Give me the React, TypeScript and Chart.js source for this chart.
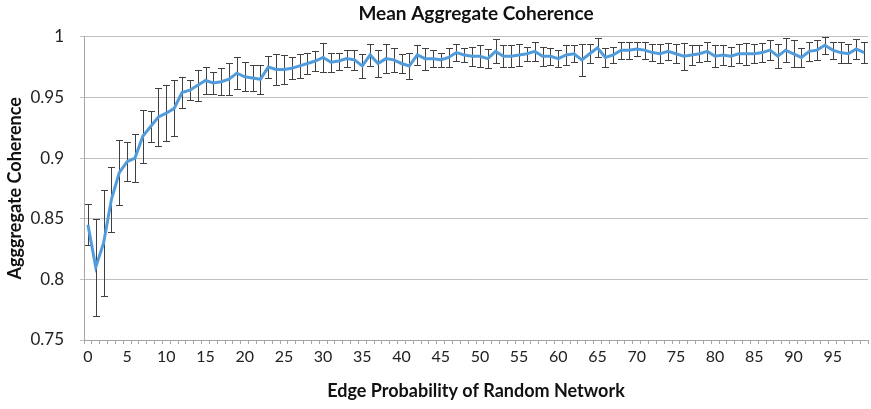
import React, { useEffect, useRef } from "react";
import { Chart, registerables } from "chart.js";

Chart.register(...registerables);

const categories: string[] = Array.from({ length: 100 }, (_, i) => String(i));

const meanCoherence: number[] = [
  0.845, 0.81, 0.83, 0.866, 0.888, 0.897, 0.9, 0.918, 0.926, 0.934,
  0.937, 0.941, 0.954, 0.956, 0.96, 0.964, 0.962, 0.963, 0.965, 0.97,
  0.967, 0.966, 0.965, 0.975, 0.973, 0.973, 0.974, 0.976, 0.978, 0.98,
  0.983, 0.979, 0.98, 0.982, 0.981, 0.976, 0.985, 0.978, 0.982, 0.981,
  0.978, 0.976, 0.985, 0.982, 0.982, 0.981, 0.983, 0.987, 0.985, 0.984,
  0.984, 0.982, 0.988, 0.984, 0.984, 0.985, 0.986, 0.988, 0.984, 0.984,
  0.982, 0.985, 0.986, 0.981, 0.986, 0.991, 0.983, 0.985, 0.989, 0.989,
  0.99, 0.989, 0.987, 0.986, 0.988, 0.986, 0.984, 0.985, 0.986, 0.988,
  0.984, 0.985, 0.984, 0.986, 0.986, 0.986, 0.987, 0.989, 0.984, 0.989,
  0.986, 0.983, 0.988, 0.989, 0.993, 0.989, 0.987, 0.986, 0.99, 0.987,
];

const errorHalf: number[] = [
  0.017, 0.04, 0.044, 0.027, 0.027, 0.016, 0.02, 0.022, 0.013, 0.024,
  0.023, 0.023, 0.013, 0.008, 0.013, 0.011, 0.009, 0.011, 0.013, 0.013,
  0.012, 0.011, 0.012, 0.009, 0.013, 0.012, 0.009, 0.01, 0.009, 0.008,
  0.012, 0.008, 0.007, 0.007, 0.008, 0.01, 0.009, 0.011, 0.012, 0.01,
  0.008, 0.011, 0.008, 0.009, 0.007, 0.006, 0.008, 0.007, 0.006, 0.008,
  0.009, 0.008, 0.01, 0.009, 0.009, 0.009, 0.006, 0.008, 0.008, 0.007,
  0.007, 0.008, 0.007, 0.013, 0.008, 0.008, 0.008, 0.007, 0.007, 0.007,
  0.006, 0.007, 0.007, 0.008, 0.007, 0.008, 0.011, 0.008, 0.007, 0.008,
  0.009, 0.008, 0.008, 0.008, 0.009, 0.008, 0.008, 0.008, 0.01, 0.01,
  0.011, 0.008, 0.008, 0.008, 0.007, 0.007, 0.009, 0.008, 0.008, 0.009,
];

const yTickMin = 0.75;
const yTickMax = 1;
const yTickStep = 0.05;

const FONT = "Lato, 'Open Sans', sans-serif";

const errorBarPlugin = {
  id: "errorBars",
  beforeDatasetsDraw(chart: any) {
    const xs = chart.scales.x;
    const ys = chart.scales.y;
    const ctx = chart.ctx;
    ctx.save();
    ctx.strokeStyle = "#404040";
    ctx.lineWidth = 1;
    const cap = 3.5;
    meanCoherence.forEach((m, i) => {
      const e = errorHalf[i];
      const x = Math.round(xs.getPixelForValue(i)) + 0.5;
      const yt = Math.round(ys.getPixelForValue(m + e)) + 0.5;
      const yb = Math.round(ys.getPixelForValue(m - e)) + 0.5;
      ctx.beginPath();
      ctx.moveTo(x, yt);
      ctx.lineTo(x, yb);
      ctx.moveTo(x - cap, yt);
      ctx.lineTo(x + cap, yt);
      ctx.moveTo(x - cap, yb);
      ctx.lineTo(x + cap, yb);
      ctx.stroke();
    });
    ctx.restore();
  },
};

export default function App() {
  const ref = useRef<HTMLCanvasElement | null>(null);

  useEffect(() => {
    if (!ref.current) return;
    const chart = new Chart(ref.current, {
      type: "line",
      data: {
        labels: categories,
        datasets: [
          {
            data: meanCoherence,
            borderColor: "#529cdb",
            borderWidth: 3,
            pointRadius: 0,
            tension: 0,
            fill: false,
          },
        ],
      },
      plugins: [errorBarPlugin],
      options: {
        animation: false,
        responsive: false,
        maintainAspectRatio: false,
        layout: { padding: { left: 0, right: 3, top: 0, bottom: 0 } },
        plugins: {
          legend: { display: false },
          tooltip: { enabled: false },
          title: {
            display: true,
            text: "Mean Aggregate Coherence",
            fullSize: false,
            color: "#111",
            font: { family: FONT, size: 19, weight: "bold" },
            padding: { top: 2, bottom: 12 },
          },
        },
        scales: {
          x: {
            type: "category",
            offset: true,
            grid: {
              display: true,
              drawOnChartArea: false,
              drawTicks: true,
              tickLength: 4,
              offset: true,
              color: "#a6a6a6",
            },
            border: { display: true, color: "#a6a6a6" },
            ticks: {
              autoSkip: false,
              maxRotation: 0,
              minRotation: 0,
              padding: 3,
              color: "#222",
              font: { family: FONT, size: 16 },
              callback: (_v: any, i: number) => (i % 5 === 0 ? categories[i] : ""),
            },
            title: {
              display: true,
              text: "Edge Probability of Random Network",
              color: "#111",
              font: { family: FONT, size: 18, weight: "bold" },
              padding: { top: 0, bottom: 7 },
            },
            afterFit: (s: any) => {
              s.height = 69;
            },
          },
          y: {
            min: yTickMin,
            max: yTickMax,
            grid: { color: "#bfbfbf", tickLength: 4, drawTicks: true },
            border: { display: true, color: "#a6a6a6" },
            ticks: {
              stepSize: yTickStep,
              padding: 16,
              color: "#222",
              font: { family: FONT, size: 17 },
              callback: (v: any) => String(Number(Number(v).toFixed(2))),
            },
            title: {
              display: true,
              text: "Agggregate Coherence",
              color: "#111",
              font: { family: FONT, size: 18, weight: "bold" },
              padding: { top: 4, bottom: 0 },
            },
            afterFit: (s: any) => {
              s.width = 84;
            },
          },
        },
      },
    } as any);
    return () => chart.destroy();
  }, []);

  return (
    <div style={{ position: "absolute", left: 0, top: 0, width: 871, height: 409, background: "#fff" }}>
      <canvas ref={ref} width={871} height={409} style={{ display: "block" }} />
    </div>
  );
}
